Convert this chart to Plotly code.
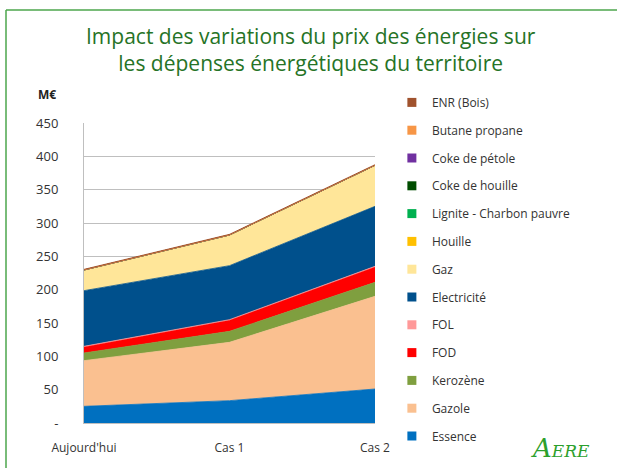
import plotly.graph_objects as go

categories = ["Aujourd'hui", "Cas 1", "Cas 2"]
series_names = ["Essence", "Gazole", "Kerozène", "FOD", "FOL", "Electricité", "Gaz",
                "Houille", "Lignite - Charbon pauvre", "Coke de houille", "Coke de pétole",
                "Butane propane", "ENR (Bois)"]
essence = [25, 33.5, 51]
gazole = [68.5, 87.5, 139]
kerozene = [11.5, 16.5, 21]
fod = [9, 16.5, 23]
fol = [1, 1, 1]
electricite = [83.5, 81, 90]
gaz = [31, 46, 61.5]
houille = [0, 0, 0]
lignite = [0, 0, 0]
coke_houille = [0, 0, 0]
coke_petole = [0, 0, 0]
butane = [0, 0, 0]
enr = [1, 1, 1]
values = [essence, gazole, kerozene, fod, fol, electricite, gaz, houille, lignite,
          coke_houille, coke_petole, butane, enr]
colors = ["#0070C0", "#FAC090", "#7F9F3F", "#FF0000", "#FF9999", "#00508C", "#FFE699",
          "#FFC000", "#00B050", "#004D00", "#7030A0", "#F79646", "#A0522D"]
y_ticks = [0, 50, 100, 150, 200, 250, 300, 350, 400, 450]
y_ticktext = ["-"] + [str(v) for v in y_ticks[1:]]

FONT = "Open Sans, Lato, sans-serif"
xs = list(range(len(categories)))
fig = go.Figure()
for name, vals, col in zip(series_names, values, colors):
    fig.add_trace(go.Scatter(x=xs, y=vals, stackgroup="one", mode="lines",
                             line=dict(width=0.8, color=col), fillcolor=col,
                             name=name, showlegend=False, hoverinfo="skip"))
# legend entries, top to bottom as in the reference
for i in reversed(range(len(series_names))):
    fig.add_trace(go.Scatter(x=[None], y=[None], mode="markers",
                             marker=dict(symbol="square", size=9, color=colors[i]),
                             name=series_names[i], legendgroup=f"g{i}", showlegend=True))

frame_left = -(84 - 6) / 291
frame_top = 1 + (123 - 10) / 300
fig.update_layout(
    width=617, height=468,
    paper_bgcolor="white", plot_bgcolor="white",
    margin=dict(l=84, r=242, t=123, b=45, autoexpand=False),
    font=dict(family=FONT, color="#333333", size=12),
    showlegend=True,
    legend=dict(x=1.058, xanchor="left", y=1.117, yanchor="top",
                traceorder="grouped", tracegroupgap=8.8, maxheight=468,
                font=dict(size=12, color="#333333", family=FONT), itemwidth=30,
                bgcolor="rgba(0,0,0,0)"),
    xaxis=dict(range=[0, 2], tickvals=xs, ticktext=categories, showgrid=False,
               zeroline=False, showline=True, linecolor="#BFBFBF", linewidth=1,
               ticks="", ticklabelstandoff=14, tickfont=dict(size=12, color="#333333")),
    yaxis=dict(range=[0, 450], tickvals=y_ticks, ticktext=y_ticktext,
               showgrid=True, gridcolor="#BFBFBF", gridwidth=1, zeroline=False,
               showline=True, linecolor="#BFBFBF", linewidth=1, ticks="",
               ticklabelstandoff=22, tickfont=dict(size=13, color="#333333")),
    shapes=[
        dict(type="line", xref="paper", yref="paper", x0=frame_left, x1=frame_left,
             y0=-0.2, y1=frame_top, line=dict(color="#4CA64C", width=1.5), layer="below"),
        dict(type="line", xref="paper", yref="paper", x0=frame_left, x1=2.0,
             y0=frame_top, y1=frame_top, line=dict(color="#4CA64C", width=1.5), layer="below"),
    ],
    annotations=[
        dict(text="Impact des variations du prix des énergies sur<br>les dépenses énergétiques du territoire",
             xref="paper", yref="paper", x=(311 - 84) / 291, y=1 + (123 - 50) / 300,
             xanchor="center", yanchor="middle", showarrow=False, align="center",
             font=dict(size=21, color="#267326", family=FONT)),
        dict(text="<b>M€</b>", xref="paper", yref="paper", x=(47 - 84) / 291, y=1 + (123 - 94) / 300,
             xanchor="center", yanchor="middle", showarrow=False,
             font=dict(size=12, color="#222222", family=FONT)),
        dict(text="<i>A<span style='font-size:17px'>ERE</span></i>", xref="paper", yref="paper",
             x=(560 - 84) / 291, y=-(448 - 423) / 300, xanchor="center", yanchor="middle",
             showarrow=False, font=dict(size=26, color="#2CA02C", family="DejaVu Serif, serif")),
    ],
)
fig.write_html("out.html", config={"displayModeBar": False},
               post_script="document.body.style.margin='0px';document.body.style.padding='0px';document.body.style.overflow='hidden';")
